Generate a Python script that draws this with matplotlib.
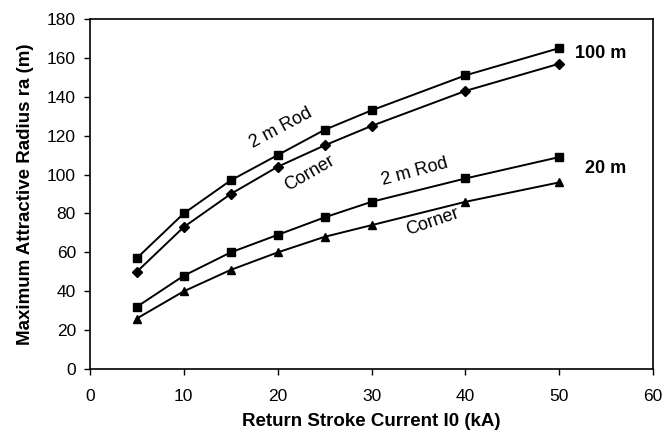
import matplotlib
matplotlib.use("Agg")
import matplotlib.pyplot as plt

plt.rcParams['font.family'] = ['Liberation Sans', 'DejaVu Sans']

current = [5, 10, 15, 20, 25, 30, 40, 50]
rod_100 = [57, 80, 97, 110, 123, 133, 151, 165]
corner_100 = [50, 73, 90, 104, 115, 125, 143, 157]
rod_20 = [32, 48, 60, 69, 78, 86, 98, 109]
corner_20 = [26, 40, 51, 60, 68, 74, 86, 96]

xticks = [0, 10, 20, 30, 40, 50, 60]
yticks = [0, 20, 40, 60, 80, 100, 120, 140, 160, 180]

fig = plt.figure(figsize=(6.7, 4.4), dpi=100)
ax = fig.add_axes([0.134, 0.161, 0.841, 0.796])

lw = 1.4
ax.plot(current, rod_100, color='black', lw=lw, marker='s', ms=5.5)
ax.plot(current, corner_100, color='black', lw=lw, marker='D', ms=5.5)
ax.plot(current, rod_20, color='black', lw=lw, marker='s', ms=5.5)
ax.plot(current, corner_20, color='black', lw=lw, marker='^', ms=6)

ax.set_xlim(0, 60)
ax.set_ylim(0, 180)
ax.set_xticks(xticks)
ax.set_yticks(yticks)
ax.tick_params(axis='both', direction='out', length=4, width=1, labelsize=12.5, pad=6)
ax.tick_params(axis='x', pad=10)
for s in ax.spines.values():
    s.set_linewidth(1.2)

ax.set_xlabel('Return Stroke Current I0 (kA)', fontsize=13.5, fontweight='bold', labelpad=7)
ax.set_ylabel('Maximum Attractive Radius ra (m)', fontsize=13.5, fontweight='bold', labelpad=9)

tk = dict(fontsize=13, ha='center', va='center', rotation_mode='anchor')
ax.text(20.4, 124, '2 m Rod', rotation=28, **tk)
ax.text(23.4, 100.5, 'Corner', rotation=30, **tk)
ax.text(34.6, 101.5, '2 m Rod', rotation=15, **tk)
ax.text(36.5, 75.8, 'Corner', rotation=19, **tk)
ax.text(57.1, 162.4, '100 m', fontsize=13, fontweight='bold', ha='right', va='center')
ax.text(57.1, 103, '20 m', fontsize=13, fontweight='bold', ha='right', va='center')

fig.savefig('out.png', dpi=100)
